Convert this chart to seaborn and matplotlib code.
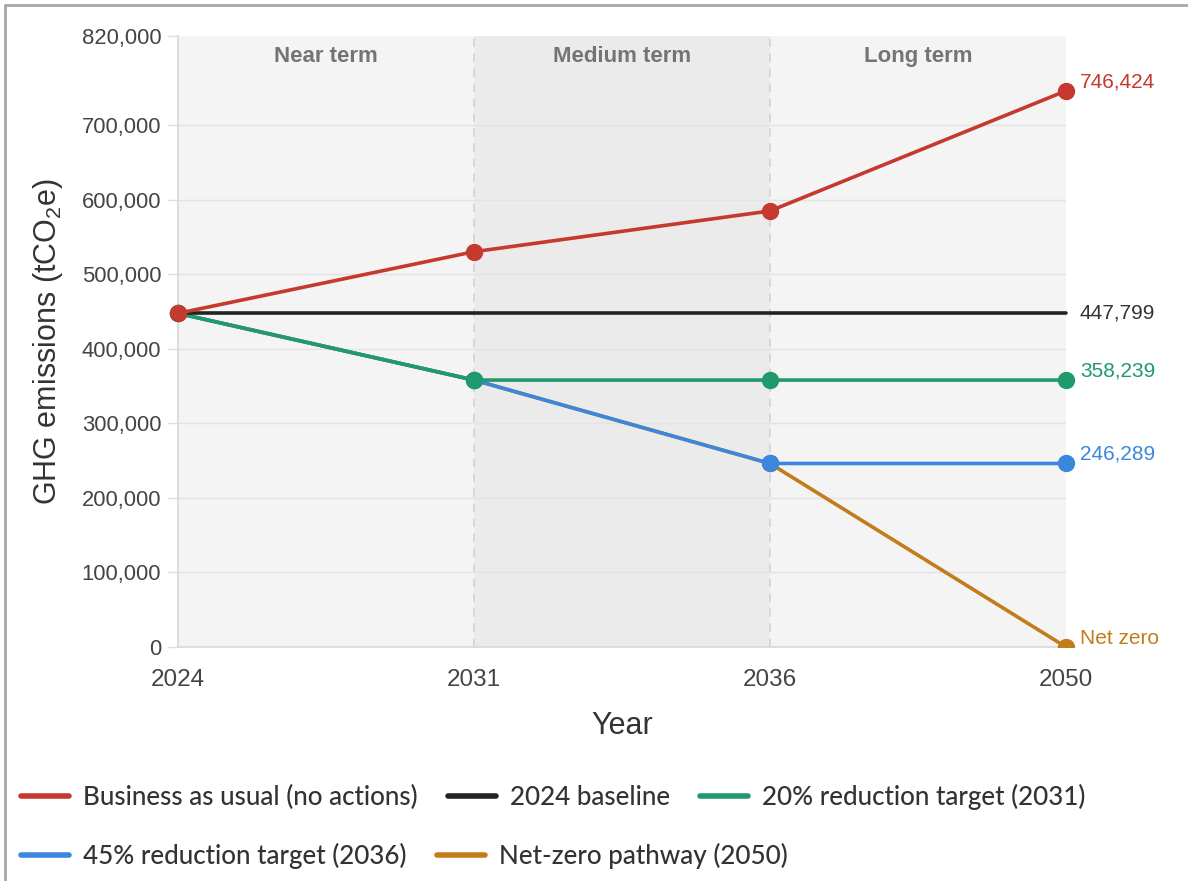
import numpy as np
import pandas as pd
import matplotlib
matplotlib.use("Agg")
import matplotlib.pyplot as plt
from matplotlib.lines import Line2D
from matplotlib.patches import Rectangle
import seaborn as sns

# data
years = ["2024", "2031", "2036", "2050"]
bau = [447799, 530500, 585200, 746424]
baseline = [447799, 447799, 447799, 447799]
target_20 = [447799, 358239, 358239, 358239]
target_45 = [447799, 358239, 246289, 246289]
net_zero = [447799, 358239, 246289, 0]
end_labels = ["746,424", "447,799", "358,239", "246,289", "Net zero"]
terms = ["Near term", "Medium term", "Long term"]

names = ["Business as usual (no actions)", "2024 baseline", "20% reduction target (2031)",
         "45% reduction target (2036)", "Net-zero pathway (2050)"]
colors = ["#c5392e", "#222222", "#1f9a6d", "#3a87dd", "#c27c1b"]

sns.set_theme(style="white")
plt.rcParams['font.family'] = ['Liberation Sans', 'DejaVu Sans']
plt.rcParams['mathtext.fontset'] = 'custom'
plt.rcParams['mathtext.rm'] = 'Liberation Sans'
plt.rcParams['mathtext.default'] = 'regular'

fig = plt.figure(figsize=(11.88, 8.81), dpi=100)
ax = fig.add_axes([178/1188, 1-647/881, (1066-178)/1188, (647-36)/881])
ax.set_facecolor("white")

pos = np.arange(len(years))

# term bands
band_cols = ["#f4f4f4", "#ebebeb", "#f4f4f4"]
for i, t in enumerate(terms):
    ax.axvspan(i, i+1, color=band_cols[i], zorder=0, lw=0)
    ax.text(i+0.5, 0.967, t, transform=ax.get_xaxis_transform(), ha="center", va="center",
            fontsize=16, fontweight="bold", color="#747474")
for x in [1, 2]:
    ax.axvline(x, color="#d3d3d3", lw=1.2, ls=(0, (5, 4)), zorder=1)

for yv in range(100000, 800000, 100000):
    ax.plot([0, 3], [yv, yv], color="#e3e3e3", lw=1, zorder=1)

series = [bau, baseline, target_20, target_45, net_zero]
zord = [8, 7, 6, 5, 4]
for k, vals in enumerate(series):
    df = pd.DataFrame({"pos": pos, "val": vals})
    sns.lineplot(data=df, x="pos", y="val", ax=ax, color=colors[k], lw=2.6,
                 marker=None if k == 1 else "o", markersize=12.5, markeredgewidth=0,
                 zorder=zord[k], clip_on=(k == 4))
    line = ax.lines[-1]
    if k == 4:
        line.set_clip_path(Rectangle((-0.05, 0), 1.1, 1.1, transform=ax.transAxes))
    dy = 0 if k == 1 else 9
    ax.annotate(end_labels[k], (3, vals[-1]), xytext=(14, dy), textcoords="offset pixels",
                ha="left", va="center", fontsize=15, color=colors[k] if k != 1 else "#333333",
                annotation_clip=False)

ax.set_xlim(0, 3)
ax.set_ylim(0, 820000)
ax.set_xticks(pos)
ax.set_xticklabels(years)
ax.set_yticks(list(range(0, 800000, 100000)) + [820000])
ax.set_yticklabels([f"{v:,}" for v in list(range(0, 800000, 100000)) + [820000]])
ax.tick_params(axis="y", length=7, width=1, color="#dddddd", pad=5, labelsize=15.8, labelcolor="#444444", left=True)
ax.tick_params(axis="x", length=0, pad=16, labelsize=17.5, labelcolor="#444444")
ax.set_xlabel("Year", fontsize=22, color="#333333", labelpad=14)
ax.set_ylabel("GHG emissions (tCO$_2$e)", fontsize=22, color="#333333", labelpad=12)
for s in ["top", "right"]:
    ax.spines[s].set_visible(False)
for s in ["left", "bottom"]:
    ax.spines[s].set_color("#d8d8d8")
    ax.spines[s].set_linewidth(1.2)
    ax.spines[s].set_zorder(2)

# legend, two rows laid out like a flow
handles = [Line2D([], [], color=c, lw=4) for c in colors]
leg_kw = dict(frameon=False, prop={"family": ["Lato", "DejaVu Sans"], "size": 18.7, "weight": "medium"},
              handlelength=1.85, handletextpad=0.55, columnspacing=1.15, loc="center left",
              borderaxespad=0, borderpad=0)
leg1 = fig.legend(handles[:3], names[:3], ncol=3, bbox_to_anchor=(21/1188, 1-797/881), **leg_kw)
leg2 = fig.legend(handles[3:], names[3:], ncol=2, bbox_to_anchor=(21/1188, 1-856/881), **leg_kw)
for lg in [leg1, leg2]:
    for t in lg.get_texts():
        t.set_color("#333333")

# screenshot frame
fig.add_artist(Line2D([5/1188, 1], [1-5/881, 1-5/881], color="#a8a8a8", lw=2, transform=fig.transFigure))
fig.add_artist(Line2D([5/1188, 5/1188], [0, 1-5/881], color="#a8a8a8", lw=2, transform=fig.transFigure))

fig.savefig("out.png", dpi=100)
